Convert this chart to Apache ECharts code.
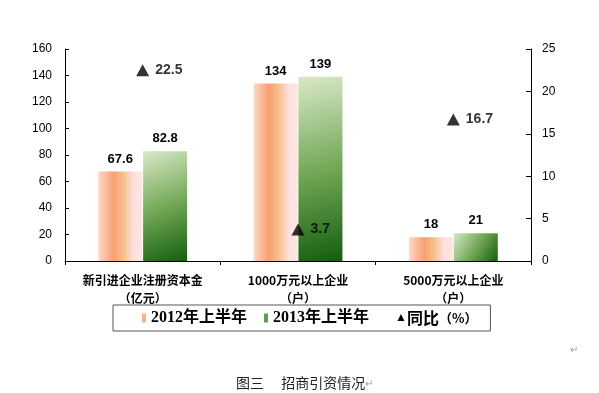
<!DOCTYPE html>
<html><head><meta charset="utf-8">
<script src="https://cdn.jsdelivr.net/npm/echarts@6/dist/echarts.min.js"></script>
<style>html,body{margin:0;padding:0;background:#fff}#c{width:599px;height:393px}</style>
</head><body><div id="c"></div>
<script>
var categories = ['新引进企业注册资本金\n（亿元）', '1000万元以上企业\n（户）', '5000万元以上企业\n（户）'];
var values2012 = [67.6, 134, 18];
var values2013 = [82.8, 139, 21];
var yoy = [22.5, 3.7, 16.7];
var leftTicks = {min: 0, max: 160, interval: 20};
var rightTicks = {min: 0, max: 25, interval: 5};

var chart = echarts.init(document.getElementById('c'));
var orangeGrad = new echarts.graphic.LinearGradient(0, 0, 1, 0, [
  {offset: 0, color: '#fbdcc6'},
  {offset: 0.15, color: '#fbc0a0'},
  {offset: 0.35, color: '#f8a074'},
  {offset: 0.58, color: '#f6c18c'},
  {offset: 0.8, color: '#fde0e0'},
  {offset: 1, color: '#fde6dc'}
]);
var greenGrad = new echarts.graphic.LinearGradient(0, 0, 1, 1, [
  {offset: 0, color: '#d8e8c8'},
  {offset: 0.5, color: '#74a958'},
  {offset: 1, color: '#145e0f'}
]);
var barLabel = {show: true, position: 'top', distance: 6, color: '#000', fontFamily: 'Arial', fontWeight: 'bold', fontSize: 13};
chart.setOption({
  animation: false,
  title: {
    text: '图三　 招商引资情况{r|↵}',
    left: 231, top: 371,
    textStyle: {fontSize: 14, fontWeight: 'normal', color: '#222', fontFamily: 'Noto Sans CJK SC',
      rich: {r: {fontSize: 10, color: '#999'}}}
  },
  graphic: [{type: 'text', left: 570, top: 345, style: {text: '↵', fontSize: 10, fill: '#999'}}],
  legend: {
    left: 113, top: 305,
    padding: [5, 13, 5, 29],
    borderColor: '#555', borderWidth: 1,
    itemGap: 17, itemWidth: 4, itemHeight: 9,
    textStyle: {fontSize: 16, color: '#000', fontFamily: 'Liberation Serif, Noto Sans CJK SC', fontWeight: 'bold',
      rich: {t: {fontSize: 12, color: '#000'}, p: {fontSize: 13, color: '#000', fontWeight: 'bold', fontFamily: 'Noto Sans CJK SC'},
        n: {fontSize: 16, color: '#000', fontFamily: 'Noto Sans CJK SC'}}},
    formatter: function (name) {
      if (name === '▲同比（%）') return '{t|▲}{n|同比}{p|（%）}';
      return name;
    },
    data: [
      {name: '2012年上半年', icon: 'rect', itemStyle: {color: '#f6b28c'}},
      {name: '2013年上半年', icon: 'rect', itemStyle: {color: '#5f9c4b'}},
      {name: '▲同比（%）', icon: 'none'}
    ]
  },
  grid: {left: 65, right: 68, top: 49, bottom: 132},
  xAxis: {
    type: 'category', data: categories,
    axisLine: {lineStyle: {color: '#000'}},
    axisTick: {show: true, inside: false, length: 4, lineStyle: {color: '#000'}},
    axisLabel: {interval: 0, margin: 10, color: '#000', fontSize: 12, fontWeight: 'bold', lineHeight: 18, fontFamily: 'Noto Sans CJK SC'}
  },
  yAxis: [{
    type: 'value', min: leftTicks.min, max: leftTicks.max, interval: leftTicks.interval,
    splitLine: {show: false},
    axisLine: {show: true, lineStyle: {color: '#000'}},
    axisTick: {show: true, inside: true, length: 4, lineStyle: {color: '#000'}},
    axisLabel: {margin: 13, color: '#000', fontSize: 12, fontFamily: 'Arial'}
  }, {
    type: 'value', min: rightTicks.min, max: rightTicks.max, interval: rightTicks.interval,
    splitLine: {show: false},
    axisLine: {show: true, lineStyle: {color: '#000'}},
    axisTick: {show: true, inside: true, length: 5, lineStyle: {color: '#000'}},
    axisLabel: {margin: 11, color: '#000', fontSize: 12, fontFamily: 'Arial'}
  }],
  series: [{
    name: '2012年上半年', type: 'bar', data: values2012, barWidth: 44, barGap: '2%',
    itemStyle: {color: orangeGrad}, label: barLabel
  }, {
    name: '2013年上半年', type: 'bar', data: values2013, barWidth: 44,
    itemStyle: {color: greenGrad}, label: barLabel
  }, {
    name: '▲同比（%）', type: 'scatter', yAxisIndex: 1, data: yoy,
    symbol: 'triangle', symbolSize: [13, 12],
    itemStyle: {color: '#000'},
    label: {show: true, position: 'right', distance: 6, color: '#000', fontFamily: 'Arial', fontWeight: 'bold', fontSize: 14}
  }]
});
</script>
</body></html>
